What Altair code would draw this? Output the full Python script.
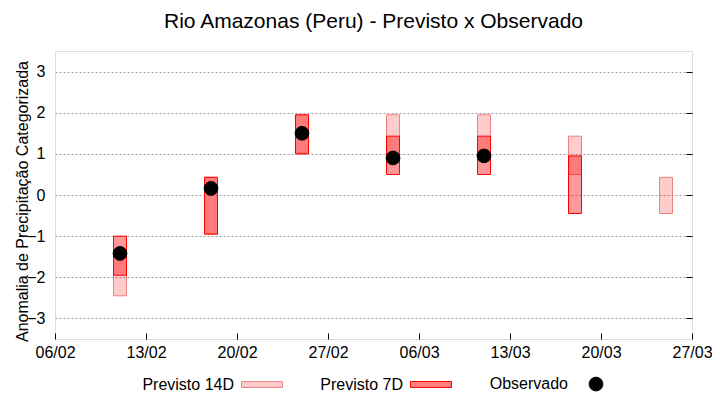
import altair as alt
import pandas as pd

# ---- data ----
dates = ["2021-02-11", "2021-02-18", "2021-02-25", "2021-03-04",
         "2021-03-11", "2021-03-18", "2021-03-25"]
p14_lo = [-2.45, -0.95, 1.00, 1.00, 1.00, 0.50, -0.45]
p14_hi = [-1.45, 0.43, 1.95, 1.95, 1.95, 1.43, 0.43]
p7_lo = [-1.95, -0.95, 1.00, 0.50, 0.50, -0.45, None]
p7_hi = [-1.00, 0.43, 1.95, 1.43, 1.43, 0.95, None]
obs = [-1.42, 0.16, 1.50, 0.90, 0.95, None, None]
series = ["Previsto 14D", "Previsto 7D", "Observado"]
tick_days = [(2, 6), (2, 13), (2, 20), (2, 27), (3, 6), (3, 13), (3, 20), (3, 27)]

FONT = "Liberation Sans"
fmt = "%Y-%m-%dT%H:%M:%S"


def box_frame(lo, hi):
    rows = []
    for d, a, b in zip(dates, lo, hi):
        if a is None or b is None:
            continue
        t = pd.Timestamp(d)
        rows.append({"start": (t - pd.Timedelta(hours=12)).strftime(fmt),
                     "end": (t + pd.Timedelta(hours=12)).strftime(fmt),
                     "lo": a, "hi": b})
    return pd.DataFrame(rows)


df14 = box_frame(p14_lo, p14_hi)
df7 = box_frame(p7_lo, p7_hi)
obs_df = pd.DataFrame([{"serie": series[2], "date": pd.Timestamp(d).strftime(fmt), "obs": v}
                       for d, v in zip(dates, obs) if v is not None])

ticks = [alt.DateTime(year=2021, month=m, date=d) for m, d in tick_days]
xscale = alt.Scale(domain=[ticks[0], ticks[-1]])
yscale = alt.Scale(domain=[-3.5, 3.5], nice=False, zero=False)

DOT = 190
# legend bar symbol (unit path, scaled by the symbol size): ~41 x 6 px
BAR = "M-2.97,-0.43H2.97V0.43H-2.97Z"

legend = alt.Legend(
    title=None, orient="none", direction="horizontal", columns=3,
    legendX=199, legendY=325, columnPadding=35,
    labelFont=FONT, labelFontSize=16, labelColor="#000000",
    labelAlign="right", labelOffset={"expr": "-36"}, labelBaseline="middle",
    symbolStrokeWidth=1, symbolOpacity=1, symbolSize=DOT,
)

x_axis = alt.Axis(title=None, values=ticks, format="%d/%m", offset=-6, tickSize=6,
                  tickColor="#000000", domain=False, grid=False, labelFont=FONT,
                  labelFontSize=16, labelColor="#000000", labelPadding=5,
                  labelFlush=False, labelOverlap=False)
y_axis = alt.Axis(title="Anomalia de Precipitação Categorizada", values=[-3, -2, -1, 0, 1, 2, 3],
                  ticks=False, domain=False, grid=True, gridColor="#a0a0a0", gridDash=[2, 2],
                  gridWidth=1, labelFont=FONT, labelFontSize=16, labelColor="#000000",
                  labelPadding=10, titleFont=FONT, titleFontSize=16, titleFontWeight="normal",
                  titleColor="#000000", titleX=-33, titleY=150, titleAngle=-90,
                  titleAlign="center", titleBaseline="middle")

box14 = alt.Chart(df14).mark_rect(fill="#ff0000", fillOpacity=0.2, stroke="#f08080",
                                  strokeWidth=1).encode(
    x=alt.X("start:T", scale=xscale, axis=x_axis),
    x2="end:T",
    y=alt.Y("lo:Q", scale=yscale, axis=y_axis),
    y2="hi:Q",
)

box7 = alt.Chart(df7).mark_rect(fill="#ff0000", fillOpacity=0.4, stroke="#ff0000",
                                strokeWidth=1).encode(
    x=alt.X("start:T", scale=xscale),
    x2="end:T",
    y=alt.Y("lo:Q", scale=yscale, axis=None),
    y2="hi:Q",
)

dots = alt.Chart(obs_df).mark_point(filled=True, opacity=1, strokeWidth=1, size=DOT).encode(
    x=alt.X("date:T", scale=xscale),
    y=alt.Y("obs:Q", scale=yscale, axis=None),
    fill=alt.Fill("serie:N", scale=alt.Scale(domain=series, range=["#ffcccc", "#ff8080", "#000000"]),
                  legend=legend),
    stroke=alt.Stroke("serie:N", scale=alt.Scale(domain=series, range=["#f08080", "#ff0000", "#000000"]),
                      legend=legend),
    shape=alt.Shape("serie:N", scale=alt.Scale(domain=series, range=[BAR, BAR, "circle"]),
                    legend=legend),
)

right_ticks = alt.Chart(obs_df).mark_point(opacity=0).encode(
    x=alt.X("date:T", scale=xscale),
    y=alt.Y("obs:Q", scale=yscale,
            axis=alt.Axis(orient="right", title=None, values=[-3, -2, -1, 0, 1, 2, 3],
                          labels=False, domain=False, grid=False, offset=-6, tickSize=6,
                          tickColor="#000000")),
)

chart = alt.layer(box14, box7, dots, right_ticks).resolve_axis(y="independent").properties(
    width=637, height=288,
    autosize=alt.AutoSizeParams(type="none"),
    padding={"left": 47, "top": 43, "right": 20, "bottom": 53},
    title=alt.Title("Rio Amazonas (Peru) - Previsto x Observado", font=FONT, fontSize=21,
                    fontWeight="normal", color="#000000", anchor="middle", offset=22,
                    baseline="bottom", frame="group", dy=24),
).configure_view(stroke="#000000", strokeWidth=1).configure(background="#ffffff")

chart.save("out.html", embed_options={"renderer": "svg", "actions": False})
